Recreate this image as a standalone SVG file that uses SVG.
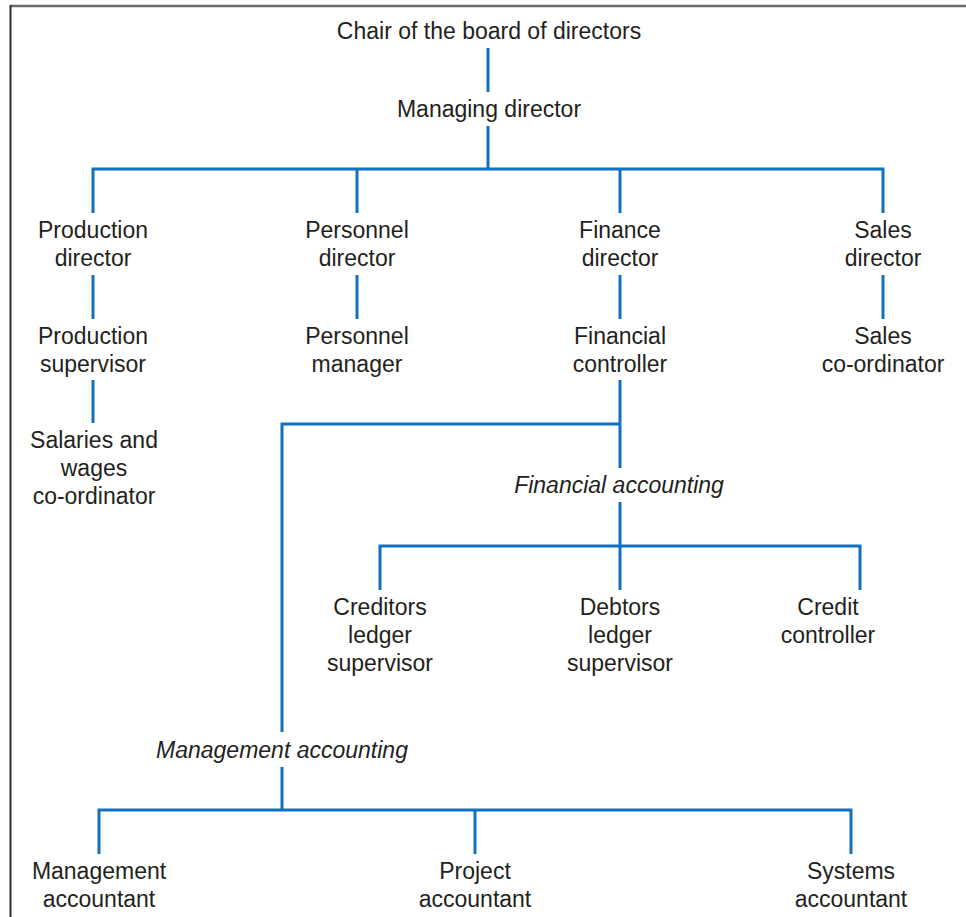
<svg xmlns="http://www.w3.org/2000/svg" width="966" height="917" viewBox="0 0 966 917">
<style>
  text { font-family: "Liberation Sans", Arial, sans-serif; font-size: 23px; fill: #231f20; text-anchor: middle; }
  .it { font-style: italic; }
  .ln { stroke: #1170c0; stroke-width: 3; fill: none; }
</style>
<rect width="966" height="917" fill="#ffffff"/>
<g id="frame">
  <line x1="10" y1="6" x2="966" y2="6" stroke="#6b6b6b" stroke-width="2.5"/>
  <line x1="10.5" y1="5" x2="10.5" y2="917" stroke="#2e2e2e" stroke-width="2"/>
</g>
<g id="connectors" class="ln">
  <path class="ln" d="M488 48 V92"/>
  <path class="ln" d="M488 126 V169"/>
  <path class="ln" d="M93 213 V169 H883 V213"/>
  <path class="ln" d="M357 169 V213"/>
  <path class="ln" d="M620 169 V213"/>
  <path class="ln" d="M93 275 V319"/>
  <path class="ln" d="M357 275 V319"/>
  <path class="ln" d="M620 275 V319"/>
  <path class="ln" d="M883 275 V319"/>
  <path class="ln" d="M93 380 V423"/>
  <path class="ln" d="M620 380 V468"/>
  <path class="ln" d="M620 424 H282 V732"/>
  <path class="ln" d="M620 502 V546"/>
  <path class="ln" d="M380 590 V546 H860 V590"/>
  <path class="ln" d="M620 546 V590"/>
  <path class="ln" d="M282 767 V810"/>
  <path class="ln" d="M99 854 V810 H851 V854"/>
  <path class="ln" d="M475 810 V854"/>
</g>
<g id="chair"><text x="489" y="39">Chair of the board of directors</text></g>
<g id="managing"><text x="489" y="117">Managing director</text></g>
<g id="production-director"><text x="93" y="238">Production</text><text x="93" y="266">director</text></g>
<g id="personnel-director"><text x="357" y="238">Personnel</text><text x="357" y="266">director</text></g>
<g id="finance-director"><text x="620" y="238">Finance</text><text x="620" y="266">director</text></g>
<g id="sales-director"><text x="883" y="238">Sales</text><text x="883" y="266">director</text></g>
<g id="production-supervisor"><text x="93" y="344">Production</text><text x="93" y="372">supervisor</text></g>
<g id="personnel-manager"><text x="357" y="344">Personnel</text><text x="357" y="372">manager</text></g>
<g id="financial-controller"><text x="620" y="344">Financial</text><text x="620" y="372">controller</text></g>
<g id="sales-coordinator"><text x="883" y="344">Sales</text><text x="883" y="372">co-ordinator</text></g>
<g id="salaries"><text x="94" y="448">Salaries and</text><text x="94" y="476">wages</text><text x="94" y="504">co-ordinator</text></g>
<g id="financial-accounting"><text class="it" x="619" y="493">Financial accounting</text></g>
<g id="creditors"><text x="380" y="615">Creditors</text><text x="380" y="643">ledger</text><text x="380" y="671">supervisor</text></g>
<g id="debtors"><text x="620" y="615">Debtors</text><text x="620" y="643">ledger</text><text x="620" y="671">supervisor</text></g>
<g id="credit-controller"><text x="828" y="615">Credit</text><text x="828" y="643">controller</text></g>
<g id="management-accounting"><text class="it" x="282" y="758">Management accounting</text></g>
<g id="management-accountant"><text x="99" y="879">Management</text><text x="99" y="907">accountant</text></g>
<g id="project-accountant"><text x="475" y="879">Project</text><text x="475" y="907">accountant</text></g>
<g id="systems-accountant"><text x="851" y="879">Systems</text><text x="851" y="907">accountant</text></g>
</svg>
